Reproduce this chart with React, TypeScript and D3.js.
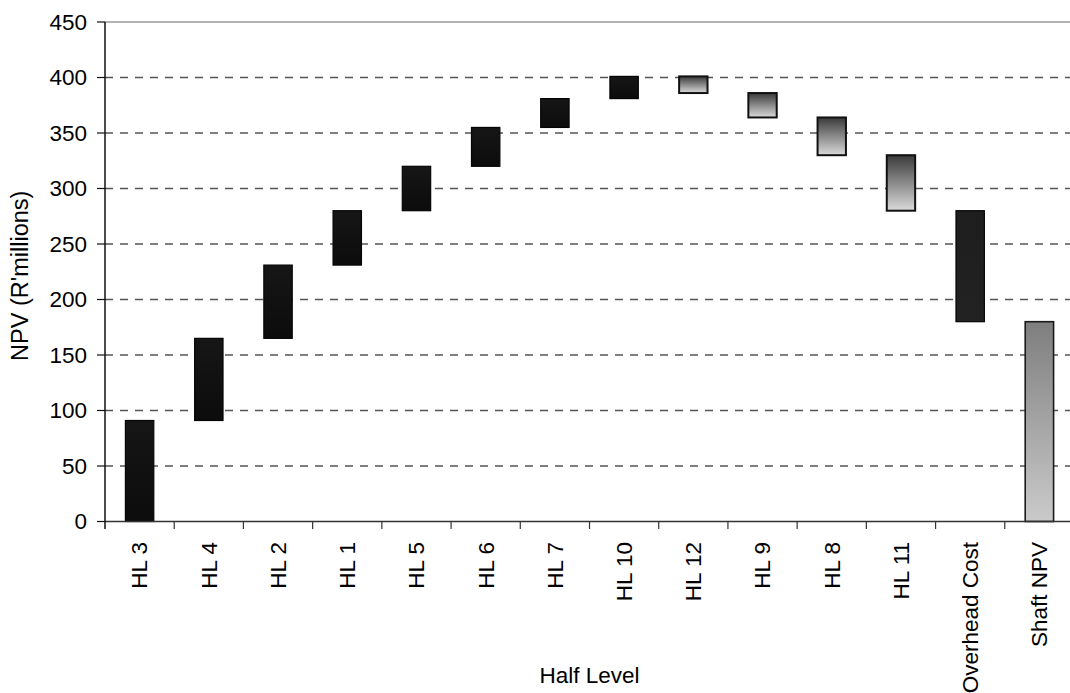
import React from "react";
import * as d3 from "d3";

// Waterfall of NPV contribution per half level (R'millions)
const categories = [
  "HL 3", "HL 4", "HL 2", "HL 1", "HL 5", "HL 6", "HL 7",
  "HL 10", "HL 12", "HL 9", "HL 8", "HL 11", "Overhead Cost", "Shaft NPV",
];
// Floating bar bottoms and tops
const lowValues = [0, 91, 165, 231, 280, 320, 355, 381, 386, 364, 330, 280, 180, 0];
const highValues = [91, 165, 231, 280, 320, 355, 381, 401, 401, 386, 364, 330, 280, 180];
// bar style: "up" = gain, "down" = loss, "cost" = overhead, "total" = shaft result
const barKinds = ["up", "up", "up", "up", "up", "up", "up", "up", "down", "down", "down", "down", "cost", "total"];
const yTicks = [0, 50, 100, 150, 200, 250, 300, 350, 400, 450];

const W = 1070;
const H = 693;
const left = 105;
const top = 22;
const bottom = 521.5;
const plotRight = 1074;
const font = "'Liberation Sans', Arial, sans-serif";
const fs = 22.5;

export default function App() {
  const x = d3.scaleBand<string>().domain(categories).range([left, plotRight]).padding(0);
  const y = d3.scaleLinear().domain([0, 450]).range([bottom, top]);
  const bw = x.bandwidth();
  const barW = bw * 0.41;

  const fillFor = (k: string) =>
    k === "up" ? "url(#gUp)" : k === "down" ? "url(#gDown)" : k === "cost" ? "url(#gCost)" : "url(#gTotal)";
  const strokeFor = (k: string) => (k === "down" ? "#111" : k === "total" ? "#1a1a1a" : "#050505");
  const strokeW = (k: string) => (k === "down" ? 2 : k === "total" ? 1.6 : 1.2);

  return (
    <svg width={W} height={H} style={{ position: "absolute", left: 0, top: 0, background: "#fff" }}>
      <defs>
        <linearGradient id="gUp" x1="0" y1="0" x2="0" y2="1">
          <stop offset="0" stopColor="#161616" />
          <stop offset="1" stopColor="#0c0c0c" />
        </linearGradient>
        <linearGradient id="gDown" x1="0" y1="0" x2="0" y2="1">
          <stop offset="0" stopColor="#3a3a3a" />
          <stop offset="1" stopColor="#dadada" />
        </linearGradient>
        <linearGradient id="gCost" x1="0" y1="0" x2="0" y2="1">
          <stop offset="0" stopColor="#1e1e1e" />
          <stop offset="1" stopColor="#222" />
        </linearGradient>
        <linearGradient id="gTotal" x1="0" y1="0" x2="0" y2="1">
          <stop offset="0" stopColor="#7e7e7e" />
          <stop offset="1" stopColor="#cacaca" />
        </linearGradient>
      </defs>

      {/* horizontal gridlines */}
      {yTicks.slice(1, -1).map((t) => (
        <line key={"g" + t} x1={left} x2={W} y1={y(t)} y2={y(t)}
          stroke="#555" strokeWidth={1.3} strokeDasharray="8,7" />
      ))}
      {/* top frame line */}
      <line x1={left} x2={W} y1={y(450)} y2={y(450)} stroke="#999" strokeWidth={1.5} />

      {/* bars */}
      {categories.map((c, i) => {
        const k = barKinds[i];
        const y0 = y(highValues[i]);
        const y1 = y(lowValues[i]);
        return (
          <rect key={c} x={(x(c) as number) + (bw - barW) / 2} y={y0} width={barW} height={y1 - y0}
            fill={fillFor(k)} stroke={strokeFor(k)} strokeWidth={strokeW(k)} />
        );
      })}

      {/* axes */}
      <line x1={left} x2={W} y1={bottom} y2={bottom} stroke="#333" strokeWidth={1.5} />
      <line x1={left} x2={left} y1={top} y2={bottom + 7.5} stroke="#111" strokeWidth={1.5} />
      {categories.slice(1).map((c) => (
        <line key={"t" + c} x1={x(c)} x2={x(c)} y1={bottom} y2={bottom + 7.5} stroke="#333" strokeWidth={1.2} />
      ))}
      {yTicks.map((t) => (
        <g key={"y" + t}>
          <line x1={left - 8} x2={left} y1={y(t)} y2={y(t)} stroke="#111" strokeWidth={1.2} />
          <text x={left - 18} y={y(t)} dy="0.35em" textAnchor="end" fontFamily={font} fontSize={fs} fill="#000">
            {t}
          </text>
        </g>
      ))}

      {/* category labels */}
      {categories.map((c) => {
        const cx = (x(c) as number) + bw / 2;
        return (
          <text key={"l" + c} transform={`translate(${cx},${bottom + 20.5}) rotate(-90)`} dy="0.35em"
            textAnchor="end" fontFamily={font} fontSize={fs} fill="#000">
            {c}
          </text>
        );
      })}

      {/* axis titles */}
      <text transform={`translate(20,${(top + bottom) / 2 + 4}) rotate(-90)`} textAnchor="middle" dy="0.35em"
        fontFamily={font} fontSize={23.5} fill="#000">
        NPV (R'millions)
      </text>
      <text x={(left + plotRight) / 2} y={683} textAnchor="middle" fontFamily={font} fontSize={fs} fill="#000">
        Half Level
      </text>
    </svg>
  );
}
